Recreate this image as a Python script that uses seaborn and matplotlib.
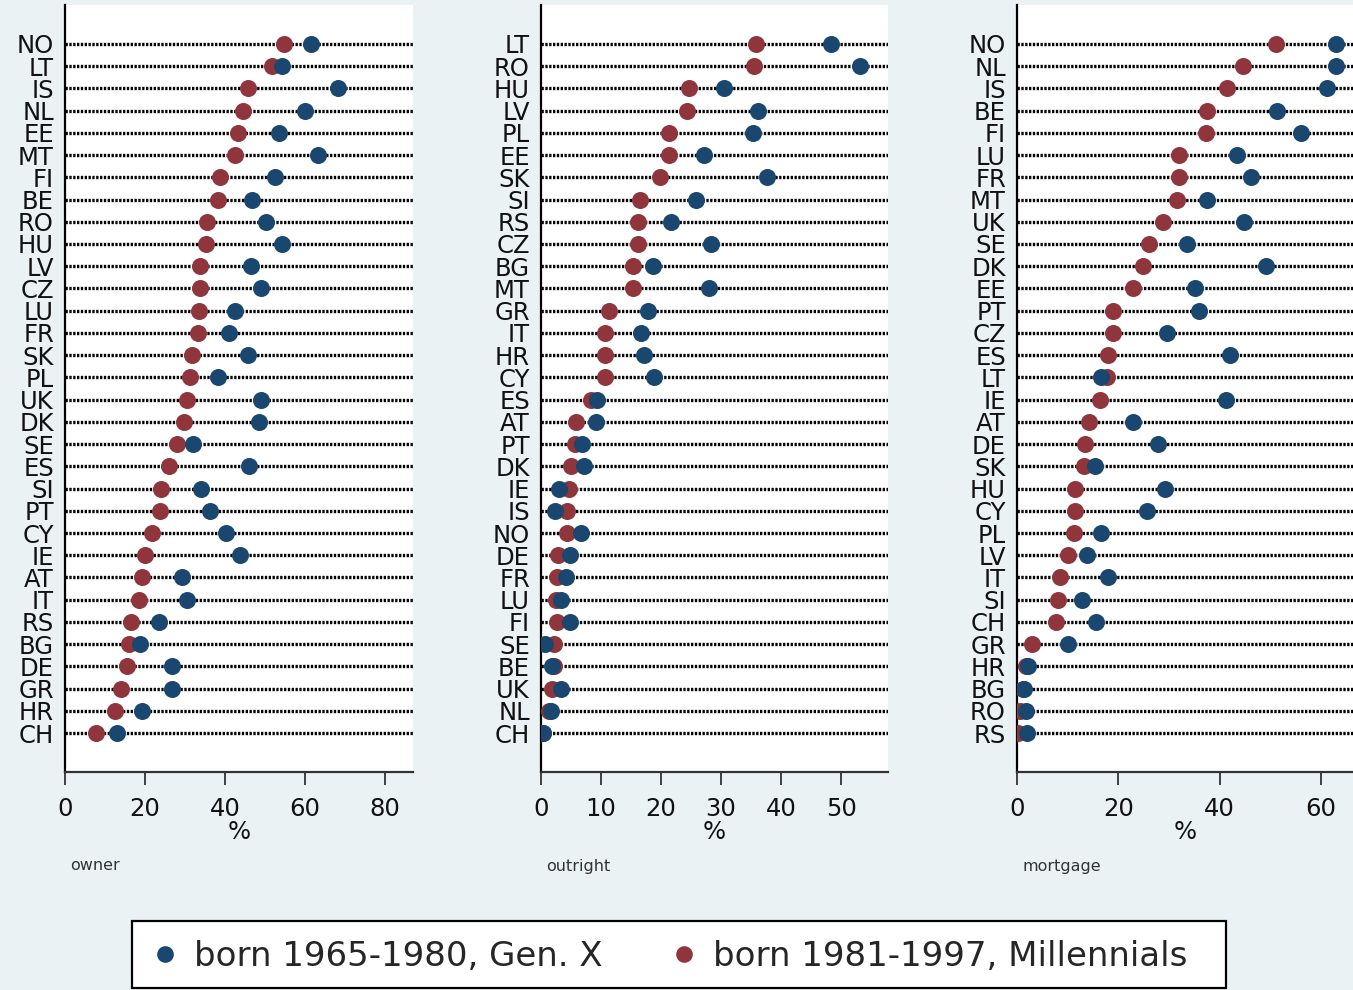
import matplotlib
matplotlib.use("Agg")
import matplotlib.pyplot as plt
from matplotlib.lines import Line2D
from matplotlib.patches import Rectangle
import seaborn as sns
import pandas as pd
import numpy as np

# ---------------- data ----------------
owner_countries = ["NO", "LT", "IS", "NL", "EE", "MT", "FI", "BE", "RO", "HU", "LV", "CZ",
                   "LU", "FR", "SK", "PL", "UK", "DK", "SE", "ES", "SI", "PT", "CY", "IE",
                   "AT", "IT", "RS", "BG", "DE", "GR", "HR", "CH"]
owner_genx = [61.5, 54.3, 68.3, 60.0, 53.5, 63.3, 52.5, 46.8, 50.3, 54.3, 46.5, 49.0,
              42.5, 41.0, 45.8, 38.3, 49.0, 48.5, 32.0, 46.0, 34.0, 36.3, 40.3, 43.8,
              29.3, 30.5, 23.5, 18.8, 26.8, 26.8, 19.3, 13.0]
owner_mill = [54.8, 51.8, 45.8, 44.5, 43.3, 42.5, 38.8, 38.3, 35.5, 35.3, 33.8, 33.8,
              33.5, 33.3, 31.8, 31.3, 30.5, 29.8, 28.0, 26.0, 24.0, 23.8, 21.8, 20.0,
              19.3, 18.5, 16.5, 16.0, 15.5, 14.0, 12.5, 7.8]

outright_countries = ["LT", "RO", "HU", "LV", "PL", "EE", "SK", "SI", "RS", "CZ", "BG", "MT",
                      "GR", "IT", "HR", "CY", "ES", "AT", "PT", "DK", "IE", "IS", "NO", "DE",
                      "FR", "LU", "FI", "SE", "BE", "UK", "NL", "CH"]
outright_genx = [48.3, 53.2, 30.4, 36.2, 35.3, 27.2, 37.6, 25.8, 21.6, 28.3, 18.7, 28.0,
                 17.9, 16.6, 17.1, 18.9, 9.3, 9.1, 6.9, 7.1, 3.0, 2.4, 6.6, 4.8,
                 4.2, 3.3, 4.9, 0.7, 1.9, 3.3, 1.7, 0.4]
outright_mill = [35.8, 35.5, 24.7, 24.3, 21.4, 21.3, 19.8, 16.5, 16.1, 16.1, 15.4, 15.3,
                 11.4, 10.7, 10.6, 10.6, 8.3, 5.9, 5.7, 5.0, 4.6, 4.4, 4.4, 2.8,
                 2.6, 2.5, 2.6, 2.2, 2.1, 1.8, 1.3, 0.3]

mortgage_countries = ["NO", "NL", "IS", "BE", "FI", "LU", "FR", "MT", "UK", "SE", "DK", "EE",
                      "PT", "CZ", "ES", "LT", "IE", "AT", "DE", "SK", "HU", "CY", "PL", "LV",
                      "IT", "SI", "CH", "GR", "HR", "BG", "RO", "RS"]
mortgage_genx = [63.0, 63.0, 61.1, 51.4, 56.1, 43.4, 46.1, 37.5, 44.7, 33.6, 49.1, 35.1,
                 35.9, 29.5, 42.1, 16.6, 41.2, 22.9, 27.8, 15.4, 29.2, 25.7, 16.5, 13.8,
                 18.0, 12.9, 15.5, 10.0, 2.2, 1.3, 1.8, 1.9]
mortgage_mill = [51.1, 44.5, 41.4, 37.4, 37.2, 32.0, 32.0, 31.6, 28.8, 26.1, 24.9, 22.8,
                 19.0, 19.0, 17.9, 17.7, 16.3, 14.2, 13.5, 13.2, 11.4, 11.4, 11.3, 10.1,
                 8.4, 8.0, 7.6, 3.0, 1.8, 1.2, 0.6, 0.1]

panel_titles = ["owner", "outright", "mortgage"]
series_labels = ["born 1965-1980, Gen. X", "born 1981-1997, Millennials"]

# ---------------- style ----------------
sns.set_theme(style="white")
plt.rcParams["font.family"] = ["DejaVu Sans"]

BG = "#EAF2F3"
NAVY = "#1A476F"
MAROON = "#90353B"

W, H = 1353, 990
fig = plt.figure(figsize=(W / 100, H / 100), dpi=100, facecolor=BG)

panels = [
    (owner_countries, owner_genx, owner_mill, (65, 413), 87.0, [0, 20, 40, 60, 80]),
    (outright_countries, outright_genx, outright_mill, (541, 888), 57.8, [0, 10, 20, 30, 40, 50]),
    (mortgage_countries, mortgage_genx, mortgage_mill, (1017, 1353), 66.3, [0, 20, 40, 60]),
]

top_px, bot_px = 5, 772
ax_h = bot_px - top_px
for (countries, genx, mill, (lpx, rpx), xmax, ticks), title in zip(panels, panel_titles):
    ax = fig.add_axes([lpx / W, 1 - bot_px / H, (rpx - lpx) / W, ax_h / H])
    ax.set_facecolor("white")
    n = len(countries)
    pos = np.arange(n)
    df = pd.DataFrame({
        "country": countries * 2,
        "y": np.concatenate([pos, pos]),
        "value": list(mill) + list(genx),
        "cohort": [series_labels[1]] * n + [series_labels[0]] * n,
    })
    # dotted guide lines
    ax.hlines(pos, 0, xmax, colors="black", linewidth=2.4,
              linestyles=[(0, (0.7, 0.45))], zorder=1)
    sns.scatterplot(data=df[df.cohort == series_labels[1]], x="value", y="y",
                    color=MAROON, s=150, linewidth=0, ax=ax, zorder=3, legend=False)
    sns.scatterplot(data=df[df.cohort == series_labels[0]], x="value", y="y",
                    color=NAVY, s=150, linewidth=0, ax=ax, zorder=4, legend=False)
    ax.set_xlim(0, xmax)
    ax.set_ylim(n - 1 + 1.75, -1.75)
    ax.set_yticks(pos)
    ax.set_yticklabels(countries, fontsize=17.5, color="#111111")
    ax.set_xticks(ticks)
    ax.set_xticklabels([str(t) for t in ticks], fontsize=17.5, color="#111111")
    ax.set_xlabel("%", fontsize=17.5, color="#111111")
    ax.set_ylabel("")
    for s in ["top", "right"]:
        ax.spines[s].set_visible(False)
    ax.spines["left"].set_color("black")
    ax.spines["left"].set_linewidth(1.6)
    ax.spines["bottom"].set_color("#333333")
    ax.spines["bottom"].set_linewidth(1.6)
    ax.tick_params(axis="x", which="major", bottom=True, length=9, width=1.3,
                   color="#333333", pad=9, direction="out")
    ax.tick_params(axis="y", which="major", left=False, length=0, pad=8)
    ax.xaxis.set_label_coords(0.5, (bot_px - 832) / ax_h)
    ax.xaxis.label.set_va("center")
    fig.text((lpx + 5) / W, 1 - 866 / H, title, fontsize=11.5, color="#333333",
             ha="left", va="center")

# legend box
box = Rectangle((132 / W, 1 - 988 / H), (1226 - 132) / W, (988 - 921) / H,
                transform=fig.transFigure, facecolor="white", edgecolor="black",
                linewidth=1.6, zorder=5)
fig.patches.append(box)

handles = [
    Line2D([], [], marker="o", linestyle="none", markersize=12, color=NAVY,
           markeredgewidth=0, label=series_labels[0]),
    Line2D([], [], marker="o", linestyle="none", markersize=12, color=MAROON,
           markeredgewidth=0, label=series_labels[1]),
]
leg = fig.legend(handles=handles, loc="center", bbox_to_anchor=(668 / W, 1 - 956 / H),
                 ncol=2, fontsize=24.5, frameon=False, columnspacing=1.9,
                 handletextpad=0.35, handlelength=1.0, borderpad=0.2)
leg.set_zorder(6)

fig.savefig("out.png", dpi=100, facecolor=BG)
